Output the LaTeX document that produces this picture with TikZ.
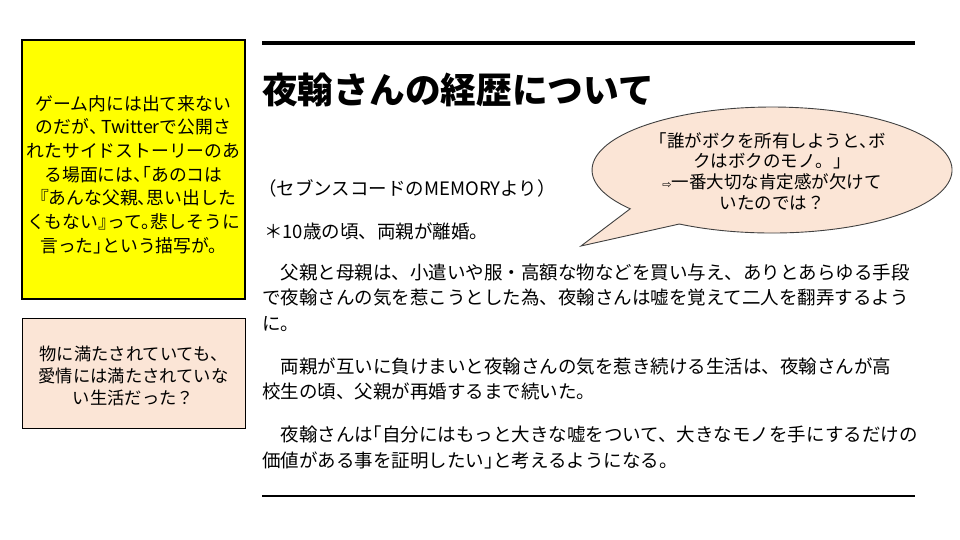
\documentclass[tikz,border=0pt]{standalone}
\usepackage{fontspec}
\setmainfont{Noto Sans CJK JP}
\newfontfamily\djv{DejaVu Sans}
\newcommand{\clp}[1]{\makebox[.5em][l]{#1}}
\newcommand{\opp}[1]{\makebox[.5em][r]{#1}}
\definecolor{yel}{HTML}{FFFF00}
\definecolor{peach}{HTML}{FBE5D6}
\definecolor{bubline}{HTML}{404040}
\begin{document}
\begin{tikzpicture}[x=1pt,y=-1pt,
  bodyline/.style={anchor=west,inner sep=0pt,font=\fontsize{18.5}{22}\selectfont},
  sidebox/.style={draw=black,line width=1.3pt,minimum width=223pt,inner sep=0pt},
]
\useasboundingbox[fill=white] (0,0) rectangle (960,540);
% rules
\coordinate (rtl) at (262,43);
\coordinate (rtr) at (915,43);
\coordinate (rbl) at (262,496);
\coordinate (rbr) at (915,496);
\draw[line width=3.5pt] (rtl) -- (rtr);
\draw[line width=2.5pt] (rbl) -- (rbr);
% title
\node[anchor=west,inner sep=0pt,font=\fontsize{35.7}{40}\selectfont\bfseries] (title) at (262,90) {夜翰さんの経歴について};
% side boxes
\node[sidebox,fill=yel,minimum height=259pt] (ybox) at (133.5,169.5) {};
\node[align=center,inner sep=0pt,font=\fontsize{17.8}{23.7}\selectfont] (ytext) at (133.5,174.5) {ゲーム内には出て来ない\\のだが\clp{、}\,Twitterで公開さ\\れたサイドストーリーのあ\\る場面には\clp{、}\opp{「}あのコは\\『あんな父親\clp{、}思い出した\\くもない\clp{』}って\clp{。}悲しそうに\\言った\clp{」}という描写が。};
\node[sidebox,fill=peach,line width=1pt,minimum height=110pt] (pbox) at (133.5,373) {};
\node[align=center,inner sep=0pt,font=\fontsize{17.3}{22}\selectfont] (ptext) at (133.5,375.5) {物に満たされていても、\\愛情には満たされていな\\い生活だった？};
% speech bubble
\coordinate (tip) at (581,246);
\coordinate (tailA) at (630.2,208.8);
\draw[fill=peach,draw=bubline,line width=0.9pt] (tip) -- (tailA) arc[start angle=218,end angle=-121,x radius=180pt,y radius=63pt] -- cycle;
\node[align=center,inner sep=0pt,font=\fontsize{17.5}{20.7}\selectfont] (btext) at (772,171) {\opp{「}誰がボクを所有しようと\clp{、}ボ\\クはボクのモノ。」\\{\djv\fontsize{11}{11}\selectfont ⇨}一番大切な肯定感が欠けて\\いたのでは？};
% body
\node[bodyline] (src) at (258,188) {（セブンスコードのMEMORYより）};
\node[bodyline] (star) at (264,231) {＊10歳の頃、両親が離婚。};
\node[bodyline] (p1a) at (262,272) {　父親と母親は、小遣いや服・高額な物などを買い与え、ありとあらゆる手段};
\node[bodyline] (p1b) at (262,298) {で夜翰さんの気を惹こうとした為、夜翰さんは嘘を覚えて二人を翻弄するよう};
\node[bodyline] (p1c) at (262,324) {に。};
\node[bodyline] (p2a) at (262,366) {　両親が互いに負けまいと夜翰さんの気を惹き続ける生活は、夜翰さんが高};
\node[bodyline] (p2b) at (262,391) {校生の頃、父親が再婚するまで続いた。};
\node[bodyline] (p3a) at (262,434) {　夜翰さんは\opp{「}自分にはもっと大きな嘘をついて、大きなモノを手にするだけの};
\node[bodyline] (p3b) at (262,460) {価値がある事を証明したい\clp{」}と考えるようになる。};
\end{tikzpicture}
\end{document}
